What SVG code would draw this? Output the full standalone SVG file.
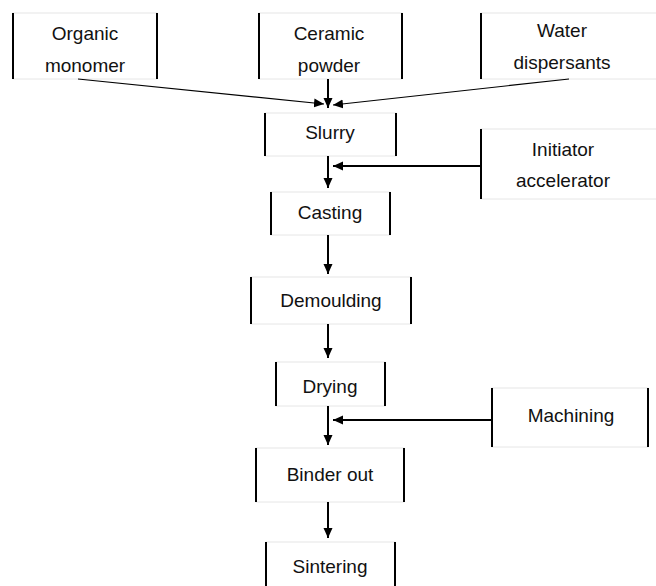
<svg xmlns="http://www.w3.org/2000/svg" width="656" height="586" viewBox="0 0 656 586">
<style>
.box{fill:#fff;stroke:#e6e6e6;stroke-width:1}
.side{stroke:#000;stroke-width:2}
.lbl{font-family:"Liberation Sans",Arial,sans-serif;font-size:19px;fill:#111;text-anchor:middle}
.conn{stroke:#000;stroke-width:2;fill:none}
.thin{stroke:#000;stroke-width:1.2;fill:none}
</style>
<defs>
<marker id="ah" markerUnits="userSpaceOnUse" markerWidth="11" markerHeight="10" refX="10" refY="5" orient="auto">
<path d="M0,0.5 L10,5 L0,9.5 z" fill="#000"/>
</marker>
</defs>
<rect width="656" height="586" fill="#fff"/>
<g id="organic">
<rect class="box" x="13" y="13" width="144" height="66"/>
<line class="side" x1="13" y1="13" x2="13" y2="79"/><line class="side" x1="157" y1="13" x2="157" y2="79"/>
<text class="lbl" x="85" y="40">Organic</text><text class="lbl" x="85" y="72">monomer</text>
</g>
<g id="ceramic">
<rect class="box" x="259" y="13" width="143" height="66"/>
<line class="side" x1="259" y1="13" x2="259" y2="79"/><line class="side" x1="402" y1="13" x2="402" y2="79"/>
<text class="lbl" x="329" y="40">Ceramic</text><text class="lbl" x="329" y="72">powder</text>
</g>
<g id="water">
<rect class="box" x="481" y="13" width="190" height="66"/>
<line class="side" x1="481" y1="13" x2="481" y2="79"/>
<text class="lbl" x="562" y="37">Water</text><text class="lbl" x="562" y="69">dispersants</text>
</g>
<g id="slurry">
<rect class="box" x="265" y="113" width="131" height="43"/>
<line class="side" x1="265" y1="113" x2="265" y2="156"/><line class="side" x1="396" y1="113" x2="396" y2="156"/>
<text class="lbl" x="330" y="139">Slurry</text>
</g>
<g id="initiator">
<rect class="box" x="481" y="129" width="190" height="70"/>
<line class="side" x1="481" y1="129" x2="481" y2="199"/>
<text class="lbl" x="563" y="156">Initiator</text><text class="lbl" x="563" y="187">accelerator</text>
</g>
<g id="casting">
<rect class="box" x="271" y="192" width="119" height="43"/>
<line class="side" x1="271" y1="192" x2="271" y2="235"/><line class="side" x1="390" y1="192" x2="390" y2="235"/>
<text class="lbl" x="330" y="219">Casting</text>
</g>
<g id="demoulding">
<rect class="box" x="251" y="277" width="160" height="47"/>
<line class="side" x1="251" y1="277" x2="251" y2="324"/><line class="side" x1="411" y1="277" x2="411" y2="324"/>
<text class="lbl" x="331" y="307">Demoulding</text>
</g>
<g id="drying">
<rect class="box" x="276" y="362" width="109" height="44"/>
<line class="side" x1="276" y1="362" x2="276" y2="406"/><line class="side" x1="385" y1="362" x2="385" y2="406"/>
<text class="lbl" x="330" y="393">Drying</text>
</g>
<g id="machining">
<rect class="box" x="492" y="388" width="156" height="59"/>
<line class="side" x1="492" y1="388" x2="492" y2="447"/><line class="side" x1="648" y1="388" x2="648" y2="447"/>
<text class="lbl" x="571" y="422">Machining</text>
</g>
<g id="binder">
<rect class="box" x="256" y="448" width="148" height="54"/>
<line class="side" x1="256" y1="448" x2="256" y2="502"/><line class="side" x1="404" y1="448" x2="404" y2="502"/>
<text class="lbl" x="330" y="481">Binder out</text>
</g>
<g id="sintering">
<rect class="box" x="266" y="542" width="129" height="60"/>
<line class="side" x1="266" y1="542" x2="266" y2="590"/><line class="side" x1="395" y1="542" x2="395" y2="590"/>
<text class="lbl" x="330" y="573">Sintering</text>
</g>
<g id="connectors">
<line class="thin" x1="78" y1="79" x2="324" y2="104" marker-end="url(#ah)"/>
<line class="thin" x1="569" y1="79" x2="333" y2="105" marker-end="url(#ah)"/>
<line class="conn" x1="328" y1="79" x2="328" y2="108" marker-end="url(#ah)"/>
<line class="conn" x1="328" y1="156" x2="328" y2="188" marker-end="url(#ah)"/>
<line class="conn" x1="481" y1="166" x2="333" y2="166" marker-end="url(#ah)"/>
<line class="conn" x1="328" y1="235" x2="328" y2="274" marker-end="url(#ah)"/>
<line class="conn" x1="328" y1="324" x2="328" y2="358" marker-end="url(#ah)"/>
<line class="conn" x1="328" y1="406" x2="328" y2="445" marker-end="url(#ah)"/>
<line class="conn" x1="492" y1="420" x2="333" y2="420" marker-end="url(#ah)"/>
<line class="conn" x1="328" y1="502" x2="328" y2="538" marker-end="url(#ah)"/>
</g>
</svg>
